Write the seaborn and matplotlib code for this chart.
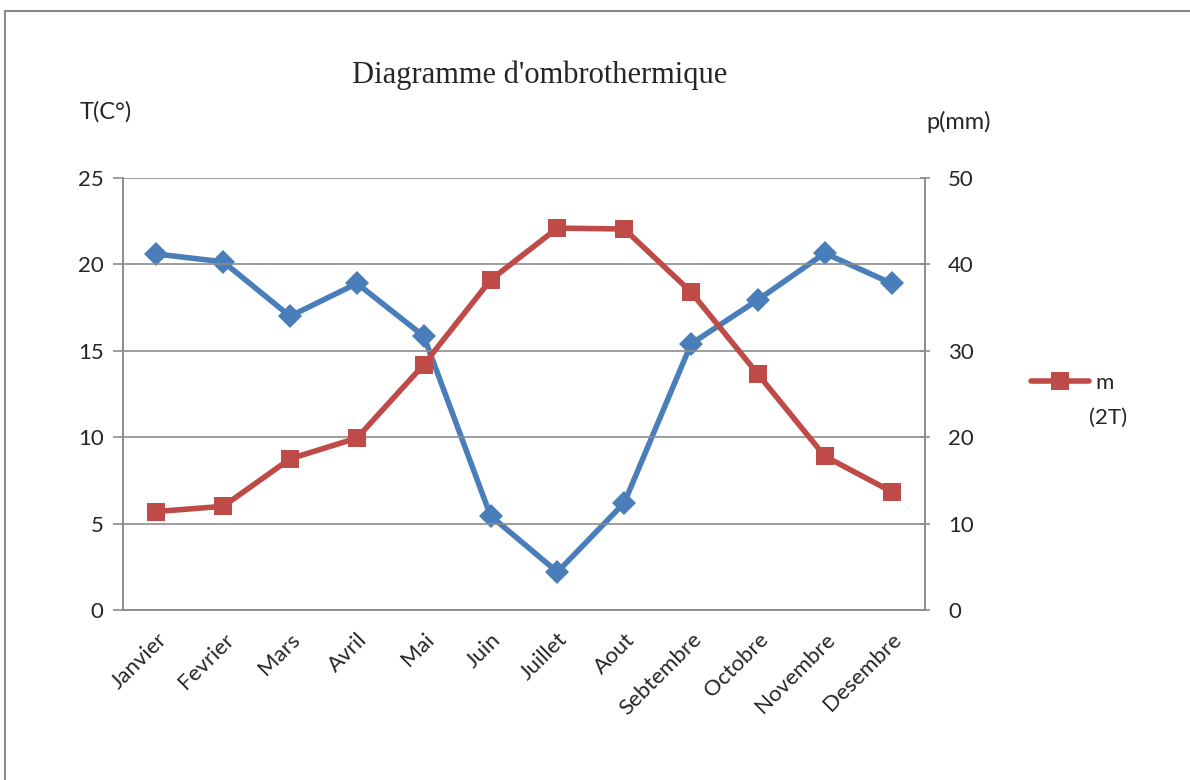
import matplotlib
matplotlib.use("Agg")
import matplotlib.pyplot as plt
from matplotlib.patches import Rectangle
import seaborn as sns
import pandas as pd

months = ["Janvier", "Fevrier", "Mars", "Avril", "Mai", "Juin", "Juillet",
          "Aout", "Sebtembre", "Octobre", "Novembre", "Desembre"]
# Mean temperature (°C), left axis
temperature = [5.7, 6.0, 8.75, 9.95, 14.2, 19.1, 22.1, 22.05, 18.4, 13.65, 8.9, 6.85]
# Precipitation (mm), right axis
precipitation = [41.2, 40.3, 34.0, 37.8, 31.7, 10.9, 4.4, 12.4, 30.8, 35.9, 41.3, 37.8]

left_ticks = [0, 5, 10, 15, 20, 25]
right_ticks = [0, 10, 20, 30, 40, 50]

sns.set_theme(style="white")
plt.rcParams["font.family"] = ["Lato", "DejaVu Sans"]

df = pd.DataFrame({"mois": months, "temp": temperature, "pluie": precipitation})
df["pos"] = range(len(months))

RED = "#be4b48"
BLUE = "#4a7ebb"
GRID = "#8c8c8c"
FS = 16

fig = plt.figure(figsize=(11.9, 7.8), dpi=100)
ax = fig.add_axes([123 / 1190, 1 - 610 / 780, 802 / 1190, 432 / 780])
ax2 = ax.twinx()

sns.lineplot(data=df, x="pos", y="temp", ax=ax, color=RED, linewidth=4,
             marker="s", markersize=13.5, markeredgewidth=0, label="m",
             legend=False, zorder=3)
sns.lineplot(data=df, x="pos", y="pluie", ax=ax2, color=BLUE, linewidth=4,
             marker="D", markersize=12, markeredgewidth=0, legend=False)

# Put the temperature line above the precipitation axis
ax.set_zorder(ax2.get_zorder() + 1)
ax.patch.set_visible(False)

ax.set_xlim(-0.5, len(months) - 0.5)
ax.set_ylim(0, 25)
ax2.set_ylim(0, 50)
ax.set_yticks(left_ticks)
ax2.set_yticks(right_ticks)
ax.yaxis.grid(True, color=GRID, linewidth=1.2)
ax.set_xlabel("")
ax.set_ylabel("")
ax2.set_ylabel("")

ax.set_xticks(range(len(months)))
ax.set_xticklabels(months, rotation=45, ha="right", rotation_mode="anchor",
                   fontsize=FS)
ax.set_xticks([i - 0.5 for i in range(len(months) + 1)], minor=True)
ax.tick_params(axis="x", which="major", length=0, pad=14)
ax.tick_params(axis="x", which="minor", length=7, width=1.2, color=GRID,
               direction="out")
ax.tick_params(axis="y", length=7, width=1.2, color=GRID, labelsize=FS, pad=7)
ax2.tick_params(axis="y", length=7, width=1.2, color=GRID, labelsize=FS, pad=13,
                direction="inout")

for a in (ax, ax2):
    a.spines["top"].set_visible(False)
    for side in ("left", "right", "bottom"):
        a.spines[side].set_color(GRID)
        a.spines[side].set_linewidth(1.2)

fig.text(540 / 1190, 1 - 75 / 780, "Diagramme d'ombrothermique",
         family=["Liberation Serif", "DejaVu Serif"], fontsize=22,
         ha="center", va="center")
fig.text(80 / 1190, 1 - 112 / 780, "T(C°)", fontsize=17, ha="left", va="center")
fig.text(926 / 1190, 1 - 122 / 780, "p(mm)", fontsize=17, ha="left", va="center")

leg = ax.legend(loc="center left", bbox_to_anchor=(1031 / 1190, 1 - 383 / 780),
                bbox_transform=fig.transFigure, frameon=False, fontsize=FS,
                handlelength=2.6, handletextpad=0.3, borderaxespad=0,
                borderpad=0)
fig.text(1089 / 1190, 1 - 418 / 780, "(2T)", fontsize=FS, ha="left",
         va="center")

fig.patches.append(Rectangle((5 / 1190, -0.05), 1.1, 1.05 - 11 / 780,
                             transform=fig.transFigure, fill=False,
                             edgecolor="#8a8a8a", linewidth=1.5))

fig.savefig("out.png", dpi=100)
